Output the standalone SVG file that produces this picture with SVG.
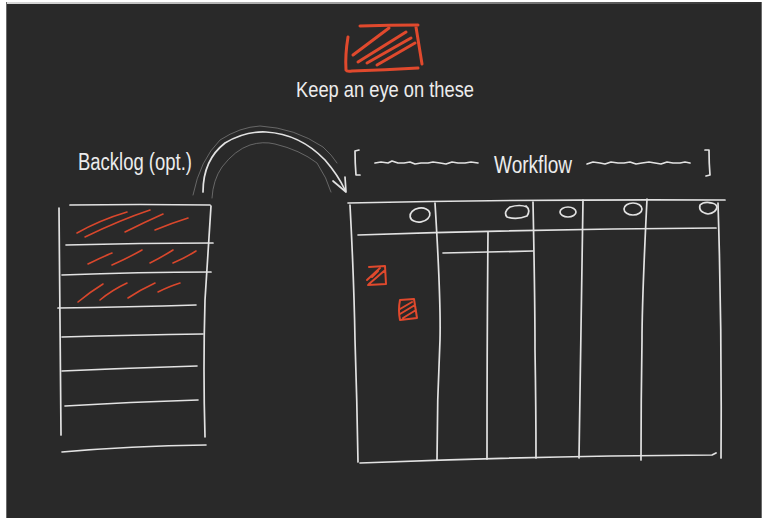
<svg xmlns="http://www.w3.org/2000/svg" width="763" height="518" viewBox="0 0 763 518">
<defs>
<linearGradient id="topg" x1="0" y1="0" x2="1" y2="0">
<stop offset="0" stop-color="#d8d8d8"/>
<stop offset="0.6" stop-color="#8a8a8a"/>
<stop offset="1" stop-color="#2c2c2c"/>
</linearGradient>
</defs>
<style>
.w{fill:none;stroke:#e2e2e2;stroke-width:1.7;stroke-linecap:round;stroke-linejoin:round}
.wt{fill:none;stroke:#8c8c8c;stroke-width:0.9;stroke-linecap:round;stroke-linejoin:round;opacity:0.7}
.r{fill:none;stroke:#d9472c;stroke-width:1.6;stroke-linecap:round;stroke-linejoin:round}
.rc{fill:none;stroke:#e0492d;stroke-width:2;stroke-linecap:round;stroke-linejoin:round}
.rb{fill:none;stroke:#e0492d;stroke-width:3;stroke-linecap:round;stroke-linejoin:round}
.t{fill:#ececec;font-family:"Liberation Sans","DejaVu Sans",sans-serif;font-weight:normal}
</style>
<rect x="0" y="0" width="763" height="518" fill="#ffffff"/>
<rect x="6" y="2" width="756" height="516" fill="#292929"/>
<rect x="6" y="2" width="756" height="2" fill="url(#topg)"/>
<line x1="6.5" y1="2" x2="6.5" y2="518" stroke="#6a6a6a" stroke-width="1"/>
<line x1="761.5" y1="2" x2="761.5" y2="518" stroke="#6a6a6a" stroke-width="1"/>

<g id="legend-icon">
<path class="rb" d="M360 26 Q390 25 418 25 M416 27 Q419 45 422 64 M348 37 Q345 55 346 70 Q347 72 352 71 Q385 70 418 68"/>
<path class="rb" d="M353 55 L389 28 M358 62 L406 32 M367 63 L411 38 M377 65 L415 43"/>
</g>
<g id="legend-label">
<text class="t" x="296" y="97" font-size="22" textLength="178" lengthAdjust="spacingAndGlyphs">Keep an eye on these</text>
</g>

<g id="backlog-label">
<text class="t" x="78" y="170" font-size="23" textLength="114" lengthAdjust="spacingAndGlyphs">Backlog (opt.)</text>
</g>

<g id="backlog">
<path class="w" d="M70 205 Q140 204 210 205 M211 206 Q208 250 205 300 Q203 370 205 437"/>
<path class="w" d="M59 208 Q60 320 61 435"/>
<path class="w" d="M66 245 Q140 243 213 243 M62 275 Q140 272 211 272 M58 308 Q130 307 196 305 M62 337 Q135 335 203 334 M62 371 Q130 368 197 366 M65 406 Q130 402 198 400 M62 452 Q130 446 206 445"/>
<path class="r" d="M77 233 Q100 220 127 212 M85 237 Q120 220 150 210 M125 232 Q145 222 163 214 M155 230 Q172 223 188 218"/>
<path class="r" d="M88 264 Q100 258 112 253 M112 265 Q128 258 142 250 M150 263 Q162 257 173 250 M173 263 Q185 258 196 251"/>
<path class="r" d="M78 302 Q90 292 103 284 M100 300 Q112 290 127 283 M128 298 Q140 290 155 283 M158 292 Q170 286 180 283"/>
</g>

<g id="workflow-label">
<path class="w" d="M359 150 L355 151 Q355 163 356 175 L360 175"/>
<path class="w" d="M705 150 L709 150 Q709 163 710 175 L706 176"/>
<path class="w" d="M375 163 L381 162 L388 163 L392 161 L398 163 L404 163 L410 162 L415 164 L421 163 L428 163 L433 162 L440 163 L446 164 L452 162 L458 163 L465 163 L471 162 L478 163"/>
<path class="w" d="M587 164 L593 162 L600 163 L605 164 L611 162 L618 163 L624 163 L630 162 L636 164 L642 163 L649 162 L655 163 L661 164 L667 162 L673 163 L680 163 L685 162 L690 163"/>
<text class="t" x="494" y="173" font-size="23" textLength="78" lengthAdjust="spacingAndGlyphs">Workflow</text>
</g>

<g id="workflow-board">
<path class="w" d="M348 203 Q540 199 725 200"/>
<path class="w" d="M350 205 Q354 280 355 340 Q357 400 358 462"/>
<path class="w" d="M360 463 Q540 456 712 455 L716 453"/>
<path class="w" d="M718 203 Q722 330 721 458"/>
<path class="w" d="M435 203 Q441 300 440 340 Q437 400 437 460"/>
<path class="w" d="M488 232 Q487 340 487 459"/>
<path class="w" d="M533 202 Q535 300 535 350 Q536 410 536 458"/>
<path class="w" d="M583 200 Q581 330 579 458"/>
<path class="w" d="M647 199 Q642 300 642 340 Q641 400 641 460"/>
<path class="w" d="M358 235 Q540 229 716 228"/>
<path class="w" d="M443 253 Q490 252 533 251"/>
<ellipse class="w" cx="420" cy="215" rx="10" ry="7" transform="rotate(-10 420 215)"/>
<path class="w" d="M527 207 Q520 204 510 207 Q503 212 507 217 Q517 220 527 216 Q531 210 526 206"/>
<ellipse class="w" cx="568" cy="212" rx="8" ry="5"/>
<ellipse class="w" cx="633" cy="209" rx="9" ry="6"/>
<path class="w" d="M712 203 Q704 201 700 205 Q698 212 708 214 Q716 213 717 207 Q716 203 710 203"/>
</g>

<g id="card-1">
<path class="rc" d="M369 267 L385 266 L386 284 L368 285 M367 280 L380 268 M369 284 L384 271 M372 277 L378 271"/>
</g>
<g id="card-2">
<path class="rc" d="M400 300 L414 299 L417 318 L400 320 Q398 310 400 300 M400 309 L412 302 M400 314 L415 305 M403 318 L416 310"/>
</g>

<g id="connectors">
<path class="wt" d="M193 195 Q200 160 220 140 Q240 127 260 126 Q295 128 323 147 Q332 155 337 163"/>
<path class="wt" d="M212 198 Q213 180 222 167 Q235 150 250 145 Q263 141 275 144 Q300 150 317 163 Q327 178 331 192"/>
<path class="w" d="M203 192 Q203 160 225 143 Q245 131 266 132 Q300 134 325 160 Q338 175 345 190"/>
<path class="w" d="M333 181 L346 192 L345 177"/>
</g>
</svg>
